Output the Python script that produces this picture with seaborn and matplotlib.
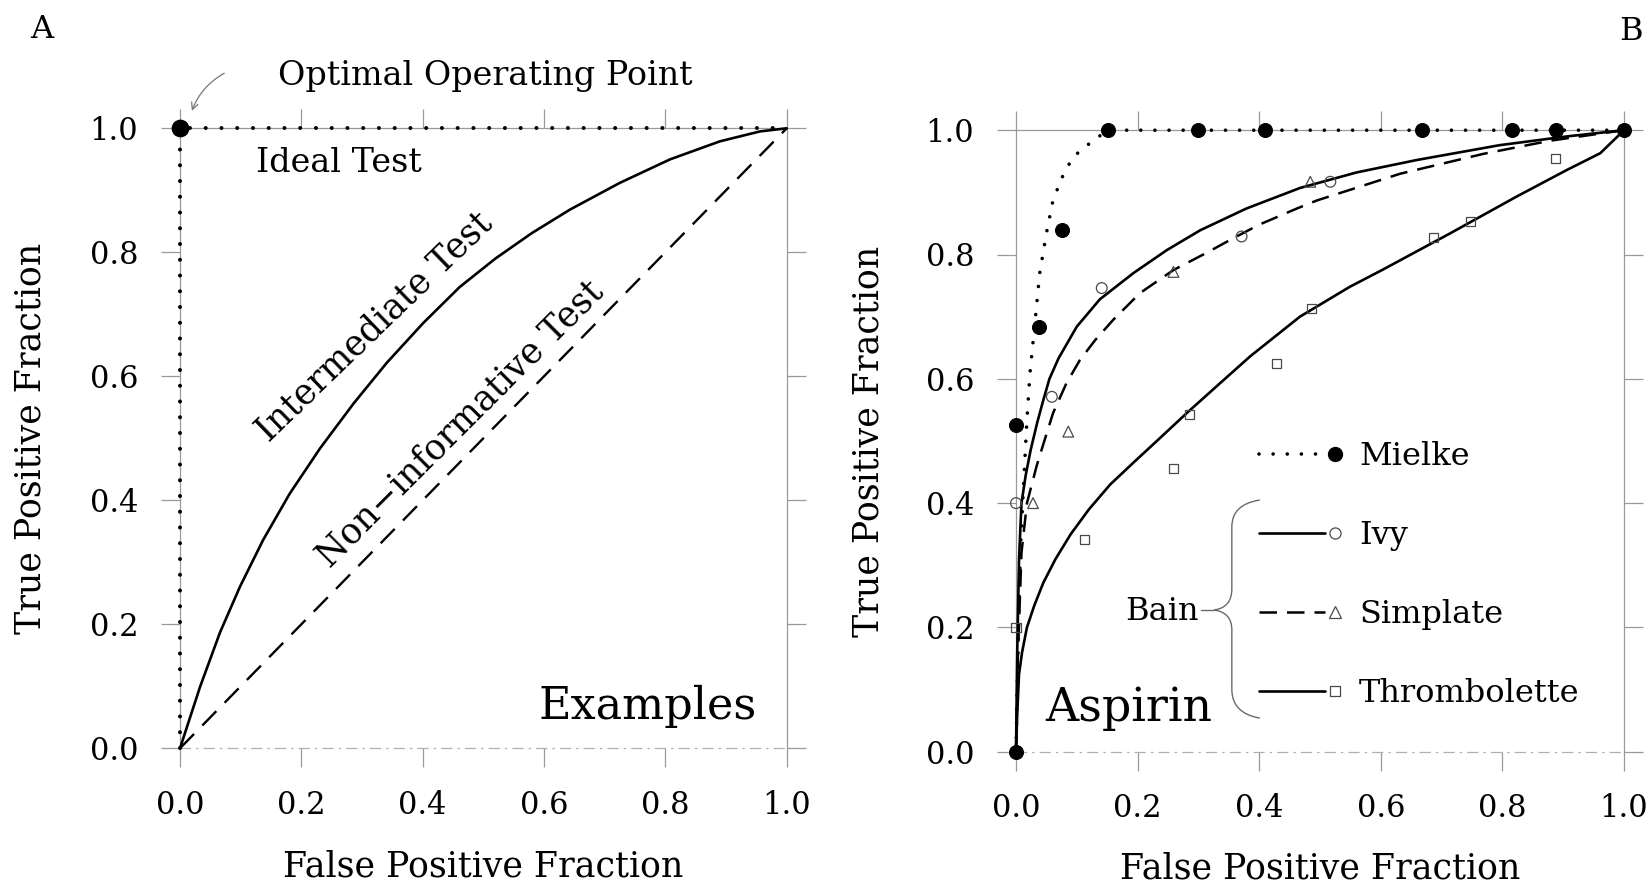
import numpy as np
import pandas as pd
import matplotlib
matplotlib.use("Agg")
import matplotlib.pyplot as plt
import seaborn as sns
from matplotlib.lines import Line2D
from matplotlib.legend_handler import HandlerBase
from matplotlib.path import Path
from matplotlib.patches import PathPatch

# ---------------- data ----------------
tick_values = [0.0, 0.2, 0.4, 0.6, 0.8, 1.0]
tick_labels = ["0.0", "0.2", "0.4", "0.6", "0.8", "1.0"]

# Panel A (Examples)
ideal_fpf = [0.0, 0.0, 1.0]
ideal_tpf = [0.0, 1.0, 1.0]
optimal_fpf = [0.0]
optimal_tpf = [1.0]
inter_fpf = [0.0, 0.033, 0.066, 0.099, 0.137, 0.181, 0.231, 0.286, 0.341, 0.401,
             0.461, 0.520, 0.580, 0.643, 0.725, 0.808, 0.890, 0.956, 1.0]
inter_tpf = [0.0, 0.099, 0.187, 0.261, 0.336, 0.411, 0.484, 0.556, 0.622, 0.686,
             0.744, 0.790, 0.831, 0.869, 0.912, 0.950, 0.979, 0.995, 1.0]
noninf_fpf = [0.0, 1.0]
noninf_tpf = [0.0, 1.0]

# Panel B (Aspirin)
series_names = ["Mielke", "Ivy", "Simplate", "Thrombolette"]

mielke_curve_fpf = [0.0, 0.003, 0.007, 0.012, 0.0176, 0.023, 0.031, 0.039, 0.050,
                    0.061, 0.078, 0.094, 0.116, 0.138, 0.155, 1.0]
mielke_curve_tpf = [0.0, 0.15, 0.32, 0.42, 0.528, 0.609, 0.689, 0.770, 0.834,
                    0.888, 0.929, 0.957, 0.975, 0.991, 1.0, 1.0]
mielke_pts_fpf = [0.0, 0.0, 0.038, 0.075, 0.151, 0.300, 0.410, 0.667, 0.816, 0.888, 1.0]
mielke_pts_tpf = [0.0, 0.526, 0.684, 0.840, 1.0, 1.0, 1.0, 1.0, 1.0, 1.0, 1.0]

ivy_curve_fpf = [0.0, 0.002, 0.005, 0.009, 0.016, 0.024, 0.035, 0.045, 0.055, 0.070,
                 0.100, 0.138, 0.193, 0.248, 0.303, 0.379, 0.467, 0.560, 0.659,
                 0.796, 0.906, 1.0]
ivy_curve_tpf = [0.0, 0.16, 0.31, 0.40, 0.445, 0.485, 0.530, 0.566, 0.600, 0.633,
                 0.684, 0.728, 0.770, 0.807, 0.839, 0.874, 0.907, 0.932, 0.952,
                 0.976, 0.990, 1.0]
ivy_pts_fpf = [0.0, 0.059, 0.141, 0.371, 0.517]
ivy_pts_tpf = [0.40, 0.571, 0.746, 0.829, 0.917]

simplate_curve_fpf = [0.0, 0.003, 0.009, 0.018, 0.026, 0.034, 0.045, 0.061, 0.083,
                      0.105, 0.130, 0.160, 0.204, 0.259, 0.314, 0.357, 0.400, 0.462,
                      0.495, 0.632, 0.769, 0.878, 1.0]
simplate_curve_tpf = [0.0, 0.15, 0.32, 0.40, 0.43, 0.46, 0.495, 0.545, 0.593,
                      0.630, 0.662, 0.695, 0.738, 0.775, 0.803, 0.826, 0.848, 0.874,
                      0.887, 0.930, 0.962, 0.983, 1.0]
simplate_pts_fpf = [0.028, 0.086, 0.259, 0.484]
simplate_pts_tpf = [0.40, 0.515, 0.772, 0.917]

throm_curve_fpf = [0.0, 0.002, 0.005, 0.010, 0.018, 0.030, 0.045, 0.065, 0.090, 0.120,
                   0.155, 0.193, 0.235, 0.281, 0.330, 0.385, 0.467, 0.549, 0.604,
                   0.714, 0.823, 0.906, 0.961, 1.0]
throm_curve_tpf = [0.0, 0.06, 0.125, 0.16, 0.20, 0.235, 0.272, 0.31, 0.35, 0.39,
                   0.43, 0.465, 0.503, 0.545, 0.588, 0.636, 0.700, 0.748, 0.776,
                   0.834, 0.893, 0.936, 0.963, 1.0]
throm_pts_fpf = [0.0, 0.113, 0.259, 0.286, 0.429, 0.486, 0.686, 0.747, 0.888]
throm_pts_tpf = [0.20, 0.341, 0.456, 0.542, 0.625, 0.713, 0.828, 0.853, 0.955]

# ---------------- style ----------------
sns.set_theme(style="white")
plt.rcParams["font.family"] = ["DejaVu Serif"]
plt.rcParams["mathtext.fontset"] = "dejavuserif"
plt.rcParams["text.color"] = "black"
plt.rcParams["axes.labelcolor"] = "black"

SPINE = "#9a9a9a"
DOT = (0, (0.01, 3.9))
W, H = 1652, 883

fig = plt.figure(figsize=(16.52, 8.83), dpi=100)
fig.patch.set_facecolor("white")
axA = fig.add_axes([180 / W, 1 - 748.3 / H, 606.7 / W, 620 / H])
axB = fig.add_axes([1016 / W, 1 - 751.7 / H, 608 / W, 621.5 / H])


def style_axes(ax):
    ax.set_xlim(0, 1)
    ax.set_ylim(0, 1)
    ax.set_xticks(tick_values)
    ax.set_yticks(tick_values)
    ax.set_xticklabels(tick_labels)
    ax.set_yticklabels(tick_labels)
    ax.tick_params(axis="both", direction="out", length=14, width=0.9, color=SPINE,
                   labelsize=22, pad=16, bottom=True, left=True, top=True, right=True,
                   labeltop=False, labelright=False, labelcolor="black")
    for s in ax.spines.values():
        s.set_color(SPINE)
        s.set_linewidth(0.9)
        s.set_visible(True)
    ax.spines["bottom"].set_linestyle((0, (8, 5, 1, 5)))
    ax.spines["bottom"].set_color("#b0b0b0")
    ax.set_facecolor("white")
    ax.grid(False)


# ---------------- panel A ----------------
style_axes(axA)
sns.lineplot(x=ideal_fpf, y=ideal_tpf, ax=axA, sort=False, estimator=None,
             color="black", lw=2.9, linestyle=DOT, dash_capstyle="round",
             clip_on=False, zorder=3)
sns.lineplot(x=inter_fpf, y=inter_tpf, ax=axA, sort=False, estimator=None,
             color="black", lw=1.9, clip_on=False, zorder=3)
sns.lineplot(x=noninf_fpf, y=noninf_tpf, ax=axA, sort=False, estimator=None,
             color="black", lw=1.7, linestyle=(0, (8.5, 5)), clip_on=False, zorder=3)
sns.scatterplot(x=optimal_fpf, y=optimal_tpf, ax=axA, s=140, color="black",
                edgecolor="black", clip_on=False, zorder=5)

axA.text(0.503, 1.084, "Optimal Operating Point", ha="center", va="center",
         fontsize=24)
axA.text(0.262, 0.944, "Ideal Test", ha="center", va="center", fontsize=24)
axA.text(0.321, 0.680, "Intermediate Test", ha="center", va="center",
         fontsize=25, rotation=44)
axA.text(0.462, 0.524, "Non\u2212informative Test", ha="center", va="center",
         fontsize=25, rotation=45)
axA.text(0.770, 0.068, "Examples", ha="center", va="center", fontsize=32)
axA.annotate("", xy=(0.018, 1.024), xytext=(0.077, 1.091),
             arrowprops=dict(arrowstyle="->", color="#777777", lw=0.9,
                             connectionstyle="arc3,rad=0.2"),
             annotation_clip=False)

axA.set_xlabel("False Positive Fraction", fontsize=25)
axA.set_ylabel("True Positive Fraction", fontsize=25)
axA.xaxis.set_label_coords(0.5, -0.163)
axA.yaxis.set_label_coords(-0.218, 0.5)

# ---------------- panel B ----------------
style_axes(axB)
sns.lineplot(x=mielke_curve_fpf, y=mielke_curve_tpf, ax=axB, sort=False, estimator=None,
             color="black", lw=2.6, linestyle=DOT, dash_capstyle="round",
             clip_on=False, zorder=3)
sns.lineplot(x=ivy_curve_fpf, y=ivy_curve_tpf, ax=axB, sort=False, estimator=None,
             color="black", lw=1.9, clip_on=False, zorder=3)
sns.lineplot(x=simplate_curve_fpf, y=simplate_curve_tpf, ax=axB, sort=False,
             estimator=None, color="black", lw=1.8, linestyle=(0, (7, 4)),
             clip_on=False, zorder=3)
sns.lineplot(x=throm_curve_fpf, y=throm_curve_tpf, ax=axB, sort=False, estimator=None,
             color="black", lw=1.9, clip_on=False, zorder=3)

OPEN = "#4a4a4a"
sns.scatterplot(x=mielke_pts_fpf, y=mielke_pts_tpf, ax=axB, s=100, color="black",
                edgecolor="black", clip_on=False, zorder=5)
sns.scatterplot(x=ivy_pts_fpf, y=ivy_pts_tpf, ax=axB, marker="o", s=60,
                facecolors="none", edgecolor=OPEN, linewidth=0.9, clip_on=False, zorder=4)
sns.scatterplot(x=simplate_pts_fpf, y=simplate_pts_tpf, ax=axB, marker="^", s=60,
                facecolors="none", edgecolor=OPEN, linewidth=0.9, clip_on=False, zorder=4)
sns.scatterplot(x=throm_pts_fpf, y=throm_pts_tpf, ax=axB, marker="s", s=42,
                facecolors="none", edgecolor=OPEN, linewidth=0.9, clip_on=False, zorder=4)

axB.text(0.186, 0.070, "Aspirin", ha="center", va="center", fontsize=33)


class LineThenMarker(HandlerBase):
    def create_artists(self, legend, orig_handle, xdescent, ydescent, width, height,
                       fontsize, trans):
        line_h, mark_h = orig_handle
        y = height / 2 - ydescent
        x0 = -xdescent
        line = Line2D([x0, x0 + width * 0.80], [y, y])
        line.update_from(line_h)
        line.set_marker("None")
        mk = Line2D([x0 + width * 0.93], [y])
        mk.update_from(mark_h)
        mk.set_linestyle("None")
        line.set_transform(trans)
        mk.set_transform(trans)
        return [line, mk]


handles = [
    (Line2D([], [], color="black", lw=2.6, linestyle=DOT, dash_capstyle="round"),
     Line2D([], [], marker="o", markersize=10, color="black", linestyle="None")),
    (Line2D([], [], color="black", lw=1.9),
     Line2D([], [], marker="o", markersize=8, markerfacecolor="none",
            markeredgecolor=OPEN, markeredgewidth=0.9, linestyle="None")),
    (Line2D([], [], color="black", lw=1.8, linestyle=(0, (7, 4))),
     Line2D([], [], marker="^", markersize=8, markerfacecolor="none",
            markeredgecolor=OPEN, markeredgewidth=0.9, linestyle="None")),
    (Line2D([], [], color="black", lw=1.9),
     Line2D([], [], marker="s", markersize=7, markerfacecolor="none",
            markeredgecolor=OPEN, markeredgewidth=0.9, linestyle="None")),
]
leg = axB.legend(handles=handles, labels=series_names,
                 handler_map={tuple: LineThenMarker()},
                 loc="upper left", bbox_to_anchor=(0.40, 0.500), frameon=False,
                 fontsize=23, handlelength=2.56, handletextpad=0.57,
                 labelspacing=1.5, borderpad=0, borderaxespad=0)
for t in leg.get_texts():
    t.set_color("black")

# brace grouping the Bain devices
verts = [(0.401, 0.405), (0.355, 0.398), (0.355, 0.362),
         (0.355, 0.262),
         (0.355, 0.232), (0.326, 0.228),
         (0.355, 0.224), (0.355, 0.196),
         (0.355, 0.100),
         (0.355, 0.062), (0.401, 0.054)]
codes = [Path.MOVETO, Path.CURVE3, Path.CURVE3,
         Path.LINETO,
         Path.CURVE3, Path.CURVE3,
         Path.CURVE3, Path.CURVE3,
         Path.LINETO,
         Path.CURVE3, Path.CURVE3]
axB.add_patch(PathPatch(Path(verts, codes), transform=axB.transAxes, fill=False,
                        edgecolor="#6a6a6a", lw=1.0, clip_on=False))
axB.add_line(Line2D([0.304, 0.326], [0.228, 0.228], transform=axB.transAxes,
                    color="#6a6a6a", lw=1.0))
axB.text(0.300, 0.226, "Bain", ha="right", va="center", fontsize=23,
         transform=axB.transAxes)

axB.set_xlabel("False Positive Fraction", fontsize=25)
axB.set_ylabel("True Positive Fraction", fontsize=25)
axB.xaxis.set_label_coords(0.5, -0.160)
axB.yaxis.set_label_coords(-0.215, 0.5)

fig.text(42 / W, 1 - 30 / H, "A", ha="center", va="center", fontsize=23)
fig.text(1631 / W, 1 - 32 / H, "B", ha="center", va="center", fontsize=23)

fig.savefig("out.png", dpi=100, facecolor="white")
